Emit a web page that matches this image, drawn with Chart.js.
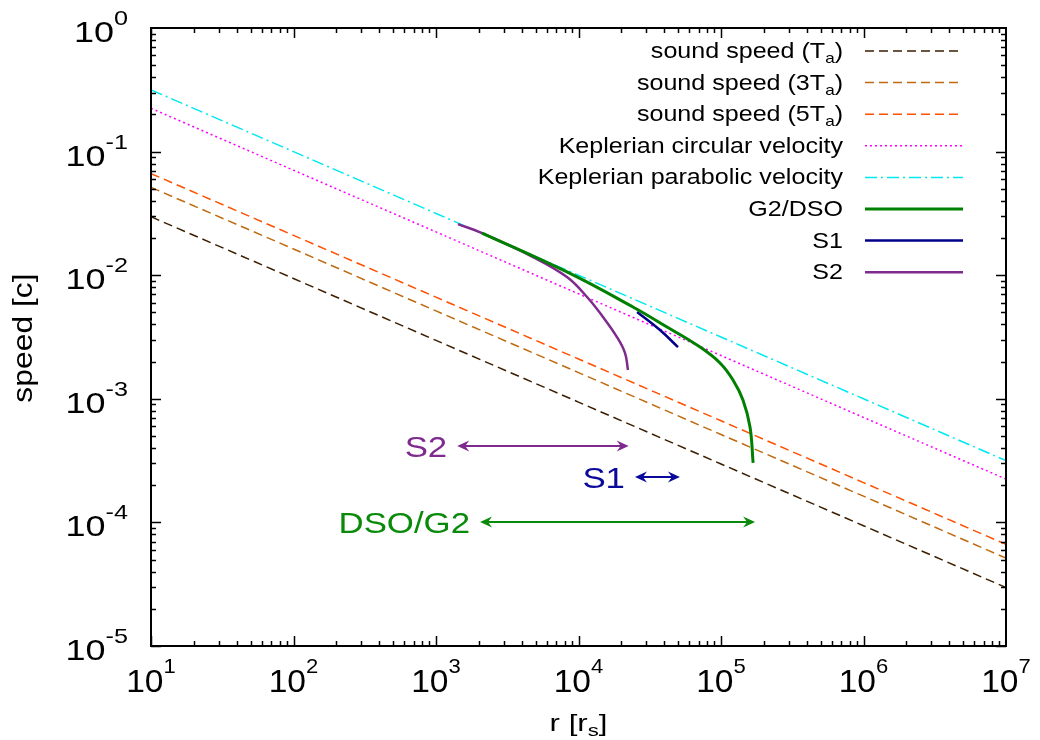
<!DOCTYPE html>
<html>
<head>
<meta charset="utf-8">
<script src="https://cdn.jsdelivr.net/npm/chart.js@4.4.1/dist/chart.umd.min.js"></script>
<style>
  body { margin: 0; background: #fff; }
</style>
</head>
<body>
<canvas id="speedChart" width="1040" height="740"></canvas>
<script>
// radius grid of the straight reference lines [r_s]
var radii = [1e1, 1e2, 1e3, 1e4, 1e5, 1e6, 1e7];

var soundTa  = [0.0297, 0.0094, 0.00297, 0.00094, 0.000297, 0.000094, 0.0000297];
var sound3Ta = [0.0514, 0.0163, 0.00514, 0.00163, 0.000514, 0.000163, 0.0000514];
var sound5Ta = [0.0664, 0.0210, 0.00664, 0.00210, 0.000664, 0.000210, 0.0000664];
var kepCirc  = [0.224, 0.0707, 0.0224, 0.00707, 0.00224, 0.000707, 0.000224];
var kepPara  = [0.316, 0.100, 0.0316, 0.0100, 0.00316, 0.00100, 0.000316];

// orbits
var g2R = [2104, 8300, 24100, 41800, 71300, 98400, 121400, 142600, 159800, 168000];
var g2V = [0.0219, 0.01062, 0.00553, 0.00381, 0.00262, 0.00195, 0.00142, 0.000978, 0.000591, 0.000303];
var s1R = [25760, 37300, 49900];
var s1V = [0.00504, 0.00360, 0.00262];
var s2R = [1426, 2104, 4797, 8300, 11480, 14860, 18620, 21190, 22250];
var s2V = [0.0259, 0.0219, 0.01403, 0.00966, 0.00666, 0.00459, 0.00316, 0.00235, 0.00171];

// r ranges of the three orbits (double arrows)
var rangeNames = ['S2', 'S1', 'DSO/G2'];
var rangeFrom  = [1409, 24900, 2037];
var rangeTo    = [22500, 51500, 173500];
var rangeSpeed = [0.000415, 0.000233, 0.0001007];
var rangeColors = ['#7f2a8e', '#0a0a9a', '#0a8a0a'];

// tick labels (powers of ten)
var xTickExp = [1, 2, 3, 4, 5, 6, 7];
var yTickExp = [0, -1, -2, -3, -4, -5];

var FONT = '"Liberation Sans", Arial, Helvetica, sans-serif';

function pts(xs, ys) {
  return xs.map(function(x, i) { return { x: x, y: ys[i] }; });
}

// parts: [text, fontSize, dy]
function richText(ctx, parts, x, y, align, sx) {
  var w = 0;
  parts.forEach(function(p) {
    ctx.font = p[1] + 'px ' + FONT;
    w += ctx.measureText(p[0]).width;
  });
  ctx.save();
  ctx.translate(x, y);
  ctx.scale(sx, 1);
  var cx = align === 'right' ? -w : (align === 'center' ? -w / 2 : 0);
  ctx.textAlign = 'left';
  ctx.textBaseline = 'alphabetic';
  parts.forEach(function(p) {
    ctx.font = p[1] + 'px ' + FONT;
    ctx.fillText(p[0], cx, p[2] || 0);
    cx += ctx.measureText(p[0]).width;
  });
  ctx.restore();
}

function seg(ctx, x1, y1, x2, y2) {
  ctx.beginPath();
  ctx.moveTo(x1, y1);
  ctx.lineTo(x2, y2);
  ctx.stroke();
}

function arrowHead(ctx, x, y, dir) {
  ctx.beginPath();
  ctx.moveTo(x, y);
  ctx.lineTo(x + dir * 12, y - 5.5);
  ctx.lineTo(x + dir * 8, y);
  ctx.lineTo(x + dir * 12, y + 5.5);
  ctx.closePath();
  ctx.fill();
}

var framePlugin = {
  id: 'frame',
  afterDraw: function(chart) {
    var ctx = chart.ctx, a = chart.chartArea;
    var xs = chart.scales.x, ys = chart.scales.y;
    ctx.save();

    // arrows for the r ranges
    rangeNames.forEach(function(name, i) {
      var x1 = xs.getPixelForValue(rangeFrom[i]);
      var x2 = xs.getPixelForValue(rangeTo[i]);
      var y = ys.getPixelForValue(rangeSpeed[i]);
      ctx.strokeStyle = rangeColors[i];
      ctx.fillStyle = rangeColors[i];
      ctx.lineWidth = 2;
      ctx.setLineDash([]);
      seg(ctx, x1 + 6, y, x2 - 6, y);
      arrowHead(ctx, x1, y, 1);
      arrowHead(ctx, x2, y, -1);
      richText(ctx, [[name, 30, 0]], x1 - 10, y + 11, 'right', 1.16);
    });

    // frame and inward ticks (mirrored)
    ctx.strokeStyle = '#000';
    ctx.fillStyle = '#000';
    ctx.lineWidth = 2;
    ctx.strokeRect(a.left, a.top, a.right - a.left, a.bottom - a.top);
    ctx.lineWidth = 1.5;
    var e, m, v, p, len;
    for (e = 1; e < 7; e++) {
      for (m = 1; m < 10; m++) {
        v = m * Math.pow(10, e);
        p = Math.round(xs.getPixelForValue(v)) + 0.5;
        len = m === 1 ? 10 : 5;
        seg(ctx, p, a.bottom, p, a.bottom - len);
        seg(ctx, p, a.top, p, a.top + len);
      }
    }
    for (e = -5; e < 0; e++) {
      for (m = 1; m < 10; m++) {
        v = m * Math.pow(10, e);
        p = Math.round(ys.getPixelForValue(v)) + 0.5;
        len = m === 1 ? 10 : 5;
        seg(ctx, a.left, p, a.left + len, p);
        seg(ctx, a.right, p, a.right - len, p);
      }
    }

    // tick labels
    xTickExp.forEach(function(k) {
      var px = xs.getPixelForValue(Math.pow(10, k));
      richText(ctx, [['10', 32, 0], [String(k), 21, -19]], px, a.bottom + 46, 'center', 1.05);
    });
    yTickExp.forEach(function(k) {
      var py = ys.getPixelForValue(Math.pow(10, k));
      richText(ctx, [['10', 30, 0], [String(k), 21, -17]], a.left - 23, py + 14, 'right', 1.2);
    });

    // axis titles
    richText(ctx, [['r [r', 24, 0], ['s', 17, 5], [']', 24, 0]], (a.left + a.right) / 2, 731, 'center', 1.3);
    ctx.save();
    ctx.translate(25, 338);
    ctx.rotate(-Math.PI / 2);
    richText(ctx, [['speed [c]', 27, 0]], 0, 7, 'center', 1.18);
    ctx.restore();

    // key, top right inside the frame
    chart.data.datasets.forEach(function(ds, i) {
      var ry = a.top + 23 + i * 31.6;
      var parts = [];
      var bits = ds.label.split('_');
      parts.push([bits[0], 22, 0]);
      if (bits.length > 1) {
        parts.push([bits[1].charAt(0), 15, 5]);
        parts.push([bits[1].slice(1), 22, 0]);
      }
      ctx.fillStyle = '#000';
      richText(ctx, parts, a.right - 163, ry + 7, 'right', 1.14);
      ctx.strokeStyle = ds.borderColor;
      ctx.lineWidth = ds.borderWidth;
      ctx.setLineDash(ds.borderDash || []);
      seg(ctx, a.right - 141, ry, a.right - 43, ry);
    });
    ctx.setLineDash([]);
    ctx.restore();
  }
};

var chart = new Chart(document.getElementById('speedChart'), {
  type: 'line',
  data: {
    datasets: [
      { label: 'sound speed (T_a)', data: pts(radii, soundTa), borderColor: '#3c1e00', borderWidth: 1.5, borderDash: [9, 5], order: 7 },
      { label: 'sound speed (3T_a)', data: pts(radii, sound3Ta), borderColor: '#c06a10', borderWidth: 1.5, borderDash: [9, 5], order: 6 },
      { label: 'sound speed (5T_a)', data: pts(radii, sound5Ta), borderColor: '#ff5000', borderWidth: 1.5, borderDash: [9, 5], order: 5 },
      { label: 'Keplerian circular velocity', data: pts(radii, kepCirc), borderColor: '#ff00ff', borderWidth: 1.5, borderDash: [2, 3], order: 4 },
      { label: 'Keplerian parabolic velocity', data: pts(radii, kepPara), borderColor: '#00e8f0', borderWidth: 1.5, borderDash: [12, 4, 2, 4], order: 3 },
      { label: 'G2/DSO', data: pts(g2R, g2V), borderColor: '#008000', borderWidth: 3, tension: 0.4, order: 0 },
      { label: 'S1', data: pts(s1R, s1V), borderColor: '#00008b', borderWidth: 2.5, tension: 0.4, order: 1 },
      { label: 'S2', data: pts(s2R, s2V), borderColor: '#7f2a8e', borderWidth: 2.5, tension: 0.4, order: 2 }
    ]
  },
  options: {
    responsive: false,
    animation: false,
    devicePixelRatio: 1,
    layout: { padding: { left: 151, top: 28, right: 34, bottom: 94 } },
    plugins: { legend: { display: false }, tooltip: { enabled: false } },
    elements: { point: { radius: 0 }, line: { tension: 0, fill: false } },
    scales: {
      x: { type: 'logarithmic', min: 10, max: 1e7, display: false },
      y: { type: 'logarithmic', min: 1e-5, max: 1, display: false }
    }
  },
  plugins: [framePlugin]
});
</script>
</body>
</html>
